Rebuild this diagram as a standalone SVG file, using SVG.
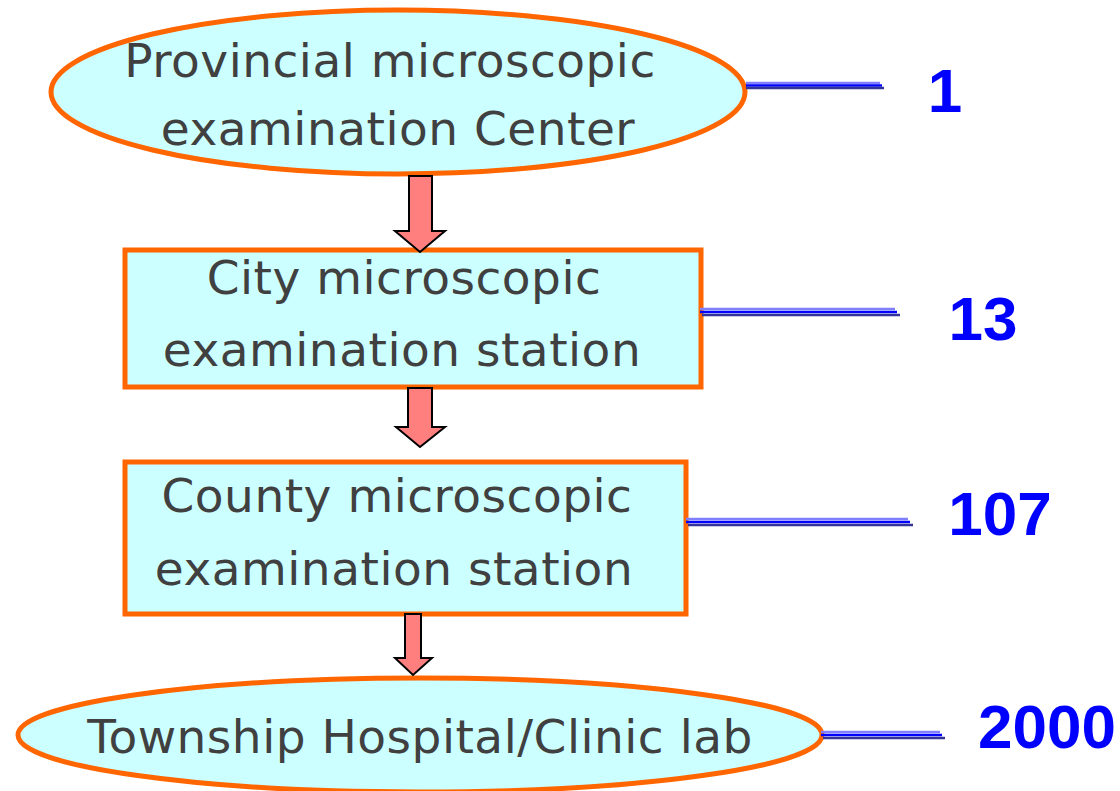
<svg xmlns="http://www.w3.org/2000/svg" width="1120" height="791" viewBox="0 0 1120 791">
<style>
.node{fill:#CCFFFF;stroke:#FF6600;stroke-width:5}
.lbl{font-family:"DejaVu Sans",Verdana,sans-serif;font-size:47px;letter-spacing:0.5px;fill:#404040;text-anchor:middle}
.num{font-family:"Liberation Sans",Arial,sans-serif;font-weight:bold;font-size:62px;fill:#0000FF;text-anchor:middle}
.arrow{fill:#FF7F7F;stroke:#000;stroke-width:2;stroke-linejoin:miter}
.l1{stroke:#8080FF;stroke-width:2.5}
.l2{stroke:#0000FF;stroke-width:2.5}
.l3{stroke:#333399;stroke-width:2.5}
</style>
<g id="provincial">
<ellipse class="node" cx="398" cy="92" rx="347" ry="82"/>
<text class="lbl" x="390" y="77">Provincial microscopic</text>
<text class="lbl" x="398" y="145">examination Center</text>
</g>
<g id="city">
<rect class="node" x="125" y="250" width="576" height="137"/>
<text class="lbl" x="404" y="294">City microscopic</text>
<text class="lbl" x="402" y="366">examination station</text>
</g>
<g id="county">
<rect class="node" x="125" y="462" width="561" height="152"/>
<text class="lbl" x="397" y="512">County microscopic</text>
<text class="lbl" x="394" y="585">examination station</text>
</g>
<g id="township">
<ellipse class="node" cx="420" cy="735" rx="402" ry="57"/>
<text class="lbl" x="420" y="753">Township Hospital/Clinic lab</text>
</g>
<g id="connectors">
<path class="arrow" d="M409,176 H432 V231 H445 L420,252 L395,231 H409 Z"/>
<path class="arrow" d="M408,388 H432 V427 H445 L420,447 L396,427 H408 Z"/>
<path class="arrow" d="M405,614 H421 V658 H432 L413,675 L395,658 H405 Z"/>
<g>
<line class="l1" x1="746" y1="83" x2="880" y2="83"/>
<line class="l2" x1="746" y1="85.5" x2="882" y2="85.5"/>
<line class="l3" x1="746" y1="88" x2="884" y2="88"/>
</g>
<g>
<line class="l1" x1="700" y1="309" x2="895" y2="309"/>
<line class="l2" x1="700" y1="312" x2="897" y2="312"/>
<line class="l3" x1="702" y1="315" x2="900" y2="315"/>
</g>
<g>
<line class="l1" x1="686" y1="519" x2="908" y2="519"/>
<line class="l2" x1="686" y1="522" x2="910" y2="522"/>
<line class="l3" x1="688" y1="525" x2="913" y2="525"/>
</g>
<g>
<line class="l1" x1="821" y1="732" x2="940" y2="732"/>
<line class="l2" x1="821" y1="735" x2="942" y2="735"/>
<line class="l3" x1="823" y1="738" x2="945" y2="738"/>
</g>
</g>
<g id="counts">
<text class="num" x="945" y="112">1</text>
<text class="num" x="983" y="340">13</text>
<text class="num" x="1000" y="535">107</text>
<text class="num" x="1047" y="748">2000</text>
</g>
</svg>
